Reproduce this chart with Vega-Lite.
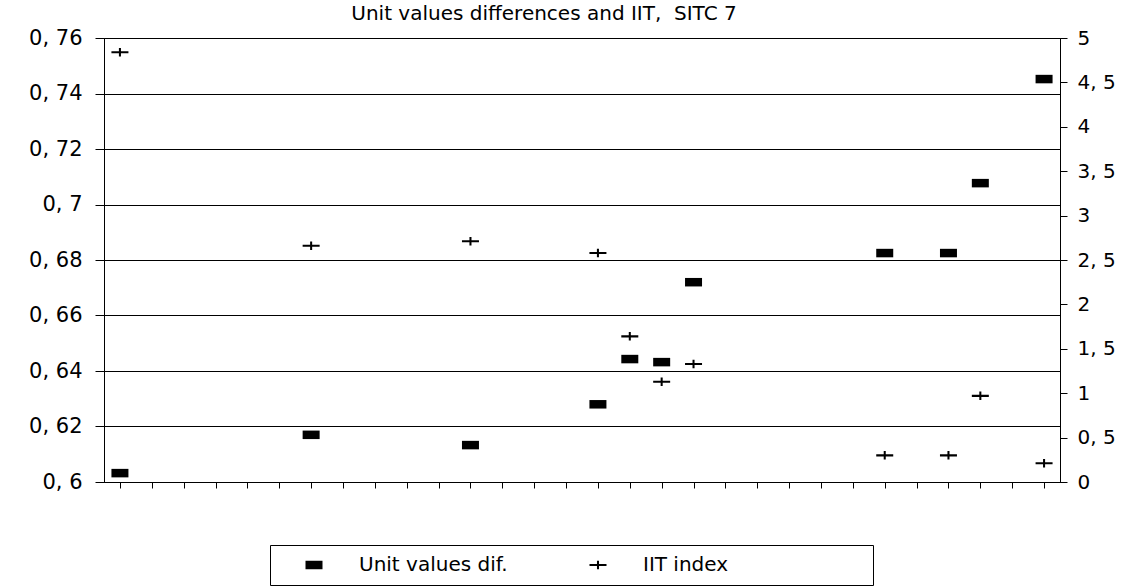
{
  "$schema": "https://vega.github.io/schema/vega-lite/v6.json",
  "width": 956,
  "height": 444,
  "autosize": {"type": "none"},
  "padding": {"left": 104, "top": 38, "right": 79, "bottom": 104},
  "background": "white",
  "config": {
    "font": "DejaVu Sans",
    "view": {"stroke": "black", "strokeWidth": 1},
    "axis": {"domainColor": "black", "tickColor": "black", "labelColor": "black", "labelFont": "DejaVu Sans"}
  },
  "title": {
    "text": "Unit values differences and IIT,\u00a0 SITC 7",
    "fontSize": 20,
    "font": "DejaVu Sans",
    "fontWeight": "normal",
    "color": "black",
    "anchor": "middle",
    "dx": -38,
    "offset": 3
  },
  "data": {
    "values": [
      {"i": 0, "series": "Unit values dif.", "v": 0.6032},
      {"i": 6, "series": "Unit values dif.", "v": 0.617},
      {"i": 11, "series": "Unit values dif.", "v": 0.6133},
      {"i": 15, "series": "Unit values dif.", "v": 0.628},
      {"i": 16, "series": "Unit values dif.", "v": 0.6443},
      {"i": 17, "series": "Unit values dif.", "v": 0.6432},
      {"i": 18, "series": "Unit values dif.", "v": 0.672},
      {"i": 24, "series": "Unit values dif.", "v": 0.6825},
      {"i": 26, "series": "Unit values dif.", "v": 0.6825},
      {"i": 27, "series": "Unit values dif.", "v": 0.7077},
      {"i": 29, "series": "Unit values dif.", "v": 0.7452},
      {"i": 0, "series": "IIT index", "v": 4.84},
      {"i": 6, "series": "IIT index", "v": 2.66},
      {"i": 11, "series": "IIT index", "v": 2.71},
      {"i": 15, "series": "IIT index", "v": 2.58},
      {"i": 16, "series": "IIT index", "v": 1.64},
      {"i": 17, "series": "IIT index", "v": 1.13},
      {"i": 18, "series": "IIT index", "v": 1.33},
      {"i": 24, "series": "IIT index", "v": 0.3},
      {"i": 26, "series": "IIT index", "v": 0.3},
      {"i": 27, "series": "IIT index", "v": 0.97},
      {"i": 29, "series": "IIT index", "v": 0.21}
    ]
  },
  "encoding": {
    "x": {
      "field": "i",
      "type": "quantitative",
      "scale": {"domain": [-0.5, 29.5], "nice": false, "zero": false},
      "axis": {
        "title": null,
        "labels": false,
        "grid": false,
        "values": [0,1,2,3,4,5,6,7,8,9,10,11,12,13,14,15,16,17,18,19,20,21,22,23,24,25,26,27,28,29],
        "tickSize": 6,
        "domainColor": "black",
        "tickColor": "black"
      }
    },
    "shape": {
      "field": "series",
      "type": "nominal",
      "scale": {
        "domain": ["Unit values dif.", "IIT index"],
        "range": ["M-1,-0.5H1V0.5H-1Z", "M-1,-0.12H-0.12V-0.5H0.12V-0.12H1V0.12H0.12V0.5H-0.12V0.12H-1Z"]
      },
      "legend": {
        "title": "\u00a0",
        "titleOrient": "right",
        "titleFontSize": 10,
        "titlePadding": 135,
        "orient": "none",
        "legendX": 166,
        "legendY": 507,
        "direction": "horizontal",
        "strokeColor": "black",
        "padding": 10,
        "labelFontSize": 20,
        "labelFont": "DejaVu Sans",
        "labelColor": "black",
        "symbolSize": 289,
        "symbolFillColor": "black",
        "symbolStrokeWidth": 0,
        "labelOffset": 35,
        "columnPadding": 56,
        "symbolOffset": 24
      }
    }
  },
  "layer": [
    {
      "transform": [{"filter": "datum.series === 'Unit values dif.'"}],
      "mark": {"type": "point", "filled": true, "fill": "black", "strokeWidth": 0, "size": 289, "opacity": 1},
      "encoding": {
        "y": {
          "field": "v",
          "type": "quantitative",
          "scale": {"domain": [0.6, 0.76], "nice": false, "zero": false},
          "axis": {
            "title": null,
            "orient": "left",
            "values": [0.6, 0.62, 0.64, 0.66, 0.68, 0.7, 0.72, 0.74, 0.76],
            "labelExpr": "replace(format(datum.value, '.2~f'), '.', ', ')",
            "labelFontSize": 21,
            "tickSize": 9,
            "labelPadding": 13,
            "grid": true,
            "gridColor": "black",
            "gridWidth": 1,
            "gridOpacity": 1
          }
        }
      }
    },
    {
      "transform": [{"filter": "datum.series === 'IIT index'"}],
      "mark": {"type": "point", "filled": true, "fill": "black", "strokeWidth": 0, "size": 289, "opacity": 1},
      "encoding": {
        "y": {
          "field": "v",
          "type": "quantitative",
          "scale": {"domain": [0, 5], "nice": false, "zero": true},
          "axis": {
            "title": null,
            "orient": "right",
            "values": [0, 0.5, 1, 1.5, 2, 2.5, 3, 3.5, 4, 4.5, 5],
            "labelExpr": "replace(format(datum.value, '.1~f'), '.', ', ')",
            "labelFontSize": 20,
            "tickSize": 7,
            "labelPadding": 10,
            "grid": false
          }
        }
      }
    }
  ],
  "resolve": {"scale": {"y": "independent"}}
}
